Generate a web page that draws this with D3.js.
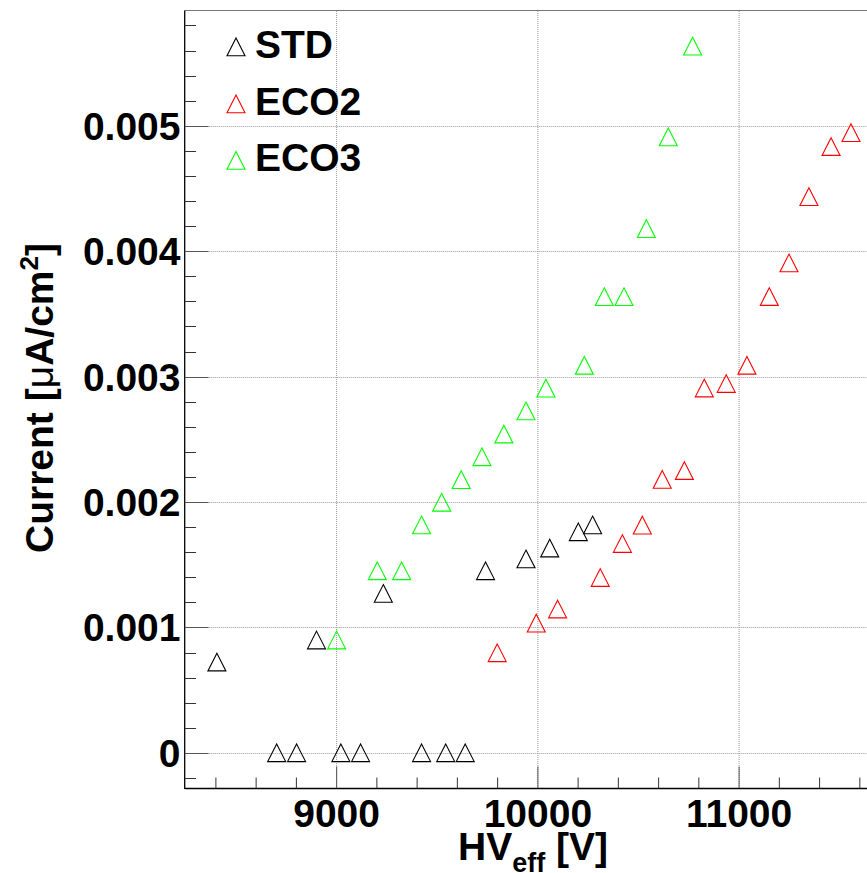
<!DOCTYPE html>
<html>
<head>
<meta charset="utf-8">
<script src="https://cdn.jsdelivr.net/npm/d3@7"></script>
<style>
  html, body { margin: 0; padding: 0; background: #fff; }
  svg { display: block; }
  text { font-family: "Liberation Sans", Arial, Helvetica, sans-serif; font-weight: bold; fill: #000; }
</style>
</head>
<body>
<svg id="chart" width="867" height="873"></svg>
<script>
// Effective high voltage [V] and current density [uA/cm^2] for the three gas mixtures
const stdHV   = [8405, 8702, 8801, 8900, 9021, 9119, 9232, 9422, 9542, 9639, 9740, 9941, 10059, 10201, 10272];
const stdCur  = [0.000723, 0, 0, 0.000899, 0, 0, 0.00127, 0, 0, 0, 0.001451, 0.001545, 0.001632, 0.001762, 0.001816];

const eco2HV  = [9798, 9992, 10098, 10310, 10420, 10519, 10618, 10728, 10827, 10936, 11039, 11150, 11248, 11347, 11457, 11556];
const eco2Cur = [0.000797, 0.001033, 0.001146, 0.001397, 0.001668, 0.001815, 0.002179, 0.00225, 0.002908, 0.002944, 0.003089, 0.003637, 0.003905, 0.004434, 0.004833, 0.004944];

const eco3HV  = [9000, 9202, 9323, 9422, 9522, 9619, 9722, 9831, 9941, 10040, 10231, 10330, 10428, 10539, 10648, 10769];
const eco3Cur = [0.000899, 0.001451, 0.001451, 0.001816, 0.001997, 0.002177, 0.00236, 0.002541, 0.002725, 0.002907, 0.003089, 0.003636, 0.003636, 0.004179, 0.00491, 0.005634];

const seriesNames  = ["STD", "ECO2", "ECO3"];
const seriesColors = ["#000000", "#ff0000", "#00ff00"];

const xMajorTicks = [9000, 10000, 11000];
const yMajorTicks = [0, 0.001, 0.002, 0.003, 0.004, 0.005];
const yTickLabels = ["0", "0.001", "0.002", "0.003", "0.004", "0.005"];

const series = [
  { name: seriesNames[0], color: seriesColors[0], hv: stdHV,  cur: stdCur  },
  { name: seriesNames[1], color: seriesColors[1], hv: eco2HV, cur: eco2Cur },
  { name: seriesNames[2], color: seriesColors[2], hv: eco3HV, cur: eco3Cur }
];

const svg = d3.select("#chart");
const frame = { left: 184.7, right: 886, top: 11, bottom: 788 };

const x = d3.scaleLinear().domain([8245, 11730]).range([frame.left, frame.right]);
const y = d3.scaleLinear().domain([-0.00028, 0.005915]).range([frame.bottom, frame.top]);

const xMinor = d3.range(8400, 11800, 200).filter(v => !xMajorTicks.includes(v));
const yMinor = d3.range(-2, 30).map(i => +(i * 0.0002).toFixed(4)).filter(v => v > -0.00028 && v < 0.0059 && !yMajorTicks.some(t => Math.abs(t - v) < 1e-9));

// dotted grid at major ticks
const grid = svg.append("g").attr("stroke", "#999").attr("stroke-width", 1).attr("stroke-dasharray", "1,1");
grid.selectAll("line.gx").data(xMajorTicks).join("line")
  .attr("x1", d => x(d)).attr("x2", d => x(d))
  .attr("y1", frame.top).attr("y2", frame.bottom);
grid.selectAll("line.gy").data(yMajorTicks).join("line")
  .attr("x1", frame.left).attr("x2", frame.right)
  .attr("y1", d => Math.round(y(d)) + 0.5).attr("y2", d => Math.round(y(d)) + 0.5);

// frame top edge
svg.append("line").attr("x1", frame.left).attr("x2", frame.right)
  .attr("y1", 10.5).attr("y2", 10.5).attr("stroke", "#777").attr("stroke-width", 1);

// X axis (ticks point up into the frame)
const xAxis = svg.append("g");
xAxis.append("line").attr("x1", frame.left).attr("x2", frame.right)
  .attr("y1", 788.5).attr("y2", 788.5).attr("stroke", "#000").attr("stroke-width", 1.3);
xAxis.selectAll("line.maj").data(xMajorTicks).join("line")
  .attr("x1", d => x(d)).attr("x2", d => x(d))
  .attr("y1", 788).attr("y2", 766.5).attr("stroke", "#555").attr("stroke-width", 1);
xAxis.selectAll("line.min").data(xMinor).join("line")
  .attr("x1", d => x(d)).attr("x2", d => x(d))
  .attr("y1", 788).attr("y2", 777.5).attr("stroke", "#333").attr("stroke-width", 1);
xAxis.selectAll("text").data(xMajorTicks).join("text")
  .attr("x", d => x(d)).attr("y", 826.5)
  .attr("text-anchor", "middle").attr("font-size", 39)
  .text(d => d3.format("d")(d));

// Y axis (ticks point right into the frame)
const yAxis = svg.append("g");
yAxis.append("line").attr("x1", 184.7).attr("x2", 184.7)
  .attr("y1", frame.top - 0.5).attr("y2", frame.bottom + 1).attr("stroke", "#000").attr("stroke-width", 1.3);
yAxis.selectAll("line.maj").data(yMajorTicks).join("line")
  .attr("x1", frame.left).attr("x2", 208.5)
  .attr("y1", d => Math.round(y(d)) + 0.5).attr("y2", d => Math.round(y(d)) + 0.5)
  .attr("stroke", "#555").attr("stroke-width", 1);
yAxis.selectAll("line.min").data(yMinor).join("line")
  .attr("x1", frame.left).attr("x2", 196)
  .attr("y1", d => Math.round(y(d)) + 0.5).attr("y2", d => Math.round(y(d)) + 0.5)
  .attr("stroke", "#333").attr("stroke-width", 1);
yAxis.selectAll("text").data(yMajorTicks).join("text")
  .attr("x", 180.5).attr("y", d => y(d) + 14)
  .attr("text-anchor", "end").attr("font-size", 39)
  .text((d, i) => yTickLabels[i]);

// axis titles
const xt = svg.append("text").attr("x", 458).attr("y", 860).attr("font-size", 39);
xt.append("tspan").text("HV");
xt.append("tspan").attr("dy", 12).attr("font-size", 27).text("eff");
xt.append("tspan").attr("dy", -12).text("\u00a0[V]");

const yt = svg.append("text")
  .attr("transform", "translate(53,398) rotate(-90)")
  .attr("text-anchor", "middle").attr("font-size", 39);
yt.append("tspan").text("Current [");
yt.append("tspan").attr("font-weight", "normal").text("\u03bc");
yt.append("tspan").text("A/cm");
yt.append("tspan").attr("dy", -15).attr("font-size", 26).text("2");
yt.append("tspan").attr("dy", 15).text("]");

// open triangle marker centred on the data point
const tri = (cx, cy) => `M${cx},${cy - 9}L${cx + 9},${cy + 8.7}L${cx - 9},${cy + 8.7}Z`;

const marks = svg.append("g");
series.forEach(s => {
  marks.append("g").selectAll("path")
    .data(s.hv.map((v, i) => [v, s.cur[i]]))
    .join("path")
    .attr("d", d => tri(x(d[0]), y(d[1])))
    .attr("fill", "none").attr("stroke", s.color).attr("stroke-width", 1.1);
});

// legend
const legendRows = [47, 104, 160.5];
const legend = svg.append("g");
series.forEach((s, i) => {
  legend.append("path").attr("d", tri(236, legendRows[i]))
    .attr("fill", "none").attr("stroke", s.color).attr("stroke-width", 1.1);
  legend.append("text").attr("x", 255).attr("y", legendRows[i] + 10.7)
    .attr("font-size", 39).text(s.name);
});
</script>
</body>
</html>
